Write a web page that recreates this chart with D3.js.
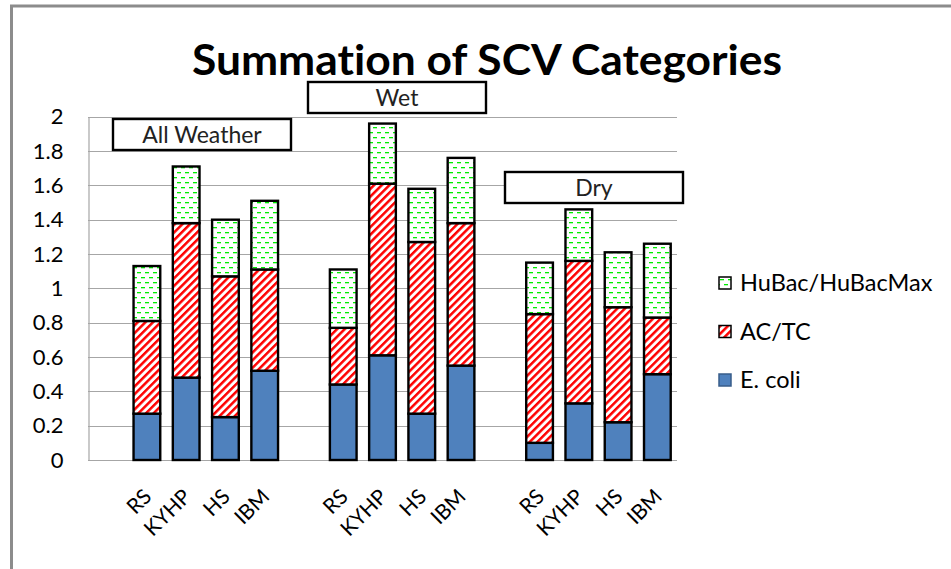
<!DOCTYPE html>
<html>
<head>
<meta charset="utf-8">
<script src="https://cdn.jsdelivr.net/npm/d3@7"></script>
<style>
  body { margin: 0; background: #fff; }
  svg { display: block; font-family: Lato, "Open Sans", sans-serif; font-variant-ligatures: none; }
</style>
</head>
<body>
<div id="plot"></div>
<script>
// chart values
var groups = ['All Weather', 'Wet', 'Dry'];
var sites = ['RS', 'KYHP', 'HS', 'IBM'];
var series = ['E. coli', 'AC/TC', 'HuBac/HuBacMax'];
// one row per group, one value per site
var ecoli = [[0.27, 0.48, 0.25, 0.52], [0.44, 0.61, 0.27, 0.55], [0.10, 0.33, 0.22, 0.50]];
var actc = [[0.54, 0.90, 0.82, 0.59], [0.33, 1.00, 1.00, 0.83], [0.75, 0.83, 0.67, 0.33]];
var hubac = [[0.32, 0.33, 0.33, 0.40], [0.34, 0.35, 0.31, 0.38], [0.30, 0.30, 0.32, 0.43]];
var yTicks = [0, 0.2, 0.4, 0.6, 0.8, 1, 1.2, 1.4, 1.6, 1.8, 2];

var width = 951, height = 569;
var svg = d3.select('#plot').append('svg')
  .attr('width', width).attr('height', height);

// fill patterns
var defs = svg.append('defs');
var stripes = defs.append('pattern')
  .attr('id', 'redStripes').attr('patternUnits', 'userSpaceOnUse')
  .attr('width', 5.4).attr('height', 5.4)
  .attr('patternTransform', 'rotate(45)');
stripes.append('rect').attr('width', 5.4).attr('height', 5.4).attr('fill', '#fff');
stripes.append('rect').attr('width', 2.5).attr('height', 5.4).attr('fill', '#ff0000');

var dashes = defs.append('pattern')
  .attr('id', 'greenDashes').attr('patternUnits', 'userSpaceOnUse')
  .attr('width', 8).attr('height', 10);
dashes.append('rect').attr('width', 8).attr('height', 10).attr('fill', '#fff');
dashes.append('rect').attr('x', 1).attr('y', 2).attr('width', 4).attr('height', 1.3).attr('fill', '#00ee00');
dashes.append('rect').attr('x', 5).attr('y', 7).attr('width', 4).attr('height', 1.3).attr('fill', '#00ee00');
dashes.append('rect').attr('x', -3).attr('y', 7).attr('width', 4).attr('height', 1.3).attr('fill', '#00ee00');

var fills = {'E. coli': '#4f81bd', 'AC/TC': 'url(#redStripes)', 'HuBac/HuBacMax': 'url(#greenDashes)'};

// outer frame of the chart object
svg.append('path')
  .attr('d', 'M11.5,' + height + ' V6 H' + width)
  .attr('fill', 'none').attr('stroke', '#8c8c8c').attr('stroke-width', 3);

// title
svg.append('text')
  .attr('x', 487).attr('y', 75)
  .attr('text-anchor', 'middle')
  .attr('font-size', 42).attr('font-weight', 700)
  .attr('textLength', 590).attr('lengthAdjust', 'spacingAndGlyphs')
  .text('Summation of SCV Categories');

// categories: a blank slot before every group
var slots = [];
groups.forEach(function (g, gi) {
  slots.push({key: 'gap' + gi, label: ''});
  sites.forEach(function (s, si) {
    slots.push({key: g + '|' + s, label: s, g: gi, s: si});
  });
});

var x = d3.scaleBand()
  .domain(slots.map(function (d) { return d.key; }))
  .range([88, 677])
  .paddingInner(0.32).paddingOuter(0.16);
var y = d3.scaleLinear().domain([0, 2]).range([460, 116.7]);

// gridlines
svg.append('g')
  .selectAll('line').data(yTicks).join('line')
  .attr('x1', 88).attr('x2', 677)
  .attr('y1', function (d) { return Math.round(y(d)) + 0.5; })
  .attr('y2', function (d) { return Math.round(y(d)) + 0.5; })
  .attr('stroke', '#a6a6a6').attr('stroke-width', 1.2);

// y axis
var yAxis = svg.append('g')
  .attr('transform', 'translate(88.5,0)')
  .call(d3.axisLeft(y).tickValues(yTicks).tickSize(0).tickPadding(25)
    .tickFormat(function (d) { return String(d); }));
yAxis.select('.domain').attr('stroke', '#a6a6a6').attr('stroke-width', 1.2);
yAxis.selectAll('text').attr('font-family', 'Lato, sans-serif')
  .attr('font-size', 22).attr('fill', '#000');

// stacked bars
var rows = slots.filter(function (d) { return d.label; }).map(function (d) {
  return {key: d.key, 'E. coli': ecoli[d.g][d.s], 'AC/TC': actc[d.g][d.s], 'HuBac/HuBacMax': hubac[d.g][d.s]};
});
var stacked = d3.stack().keys(series)(rows);

svg.append('g')
  .selectAll('g').data(stacked).join('g')
  .attr('fill', function (d) { return fills[d.key]; })
  .selectAll('rect').data(function (d) { return d; }).join('rect')
  .attr('x', function (d) { return x(d.data.key); })
  .attr('width', x.bandwidth())
  .attr('y', function (d) { return y(d[1]); })
  .attr('height', function (d) { return y(d[0]) - y(d[1]); })
  .attr('stroke', '#000').attr('stroke-width', 2.4);

// x axis labels
var xAxis = svg.append('g')
  .attr('transform', 'translate(0,460)')
  .call(d3.axisBottom(x).tickSize(0)
    .tickFormat(function (k) { return slots.find(function (s) { return s.key === k; }).label; }));
xAxis.select('.domain').remove();
xAxis.selectAll('text')
  .attr('font-family', 'Lato, sans-serif').attr('font-size', 21).attr('fill', '#000')
  .attr('text-anchor', 'end')
  .attr('dy', null).attr('y', 0)
  .attr('transform', 'translate(6,38) rotate(-45)');

// group label boxes
var boxes = [
  {label: groups[0], x: 113, y: 119, w: 178, h: 31},
  {label: groups[1], x: 308, y: 82, w: 178, h: 31},
  {label: groups[2], x: 505, y: 172, w: 178, h: 31}
];
var box = svg.append('g').selectAll('g').data(boxes).join('g');
box.append('rect')
  .attr('x', function (d) { return d.x; }).attr('y', function (d) { return d.y; })
  .attr('width', function (d) { return d.w; }).attr('height', function (d) { return d.h; })
  .attr('fill', '#fff').attr('stroke', '#000').attr('stroke-width', 2.4);
box.append('text')
  .attr('x', function (d) { return d.x + d.w / 2; })
  .attr('y', function (d) { return d.y + d.h / 2 + 8; })
  .attr('text-anchor', 'middle').attr('font-size', 23).attr('fill', '#222')
  .text(function (d) { return d.label; });

// legend, top entry is the top of the stack
var legend = svg.append('g').selectAll('g').data(series.slice().reverse()).join('g')
  .attr('transform', function (d, i) { return 'translate(719,' + (277 + i * 48.5) + ')'; });
legend.append('rect')
  .attr('width', 12).attr('height', 12)
  .attr('fill', function (d) { return fills[d]; })
  .attr('stroke', function (d) { return d === 'E. coli' ? '#385d8a' : '#000'; })
  .attr('stroke-width', 1.5);
legend.append('text')
  .attr('x', 21).attr('y', 14)
  .attr('font-size', 23.5).attr('fill', '#000')
  .text(function (d) { return d; });
</script>
</body>
</html>
